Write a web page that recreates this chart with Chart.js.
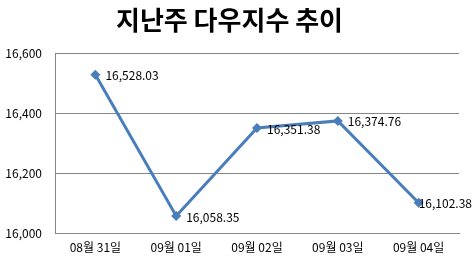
<!DOCTYPE html>
<html>
<head>
<meta charset="utf-8">
<script src="https://cdn.jsdelivr.net/npm/chart.js@4/dist/chart.umd.min.js"></script>
<style>
  html, body { margin: 0; padding: 0; background: #fff; }
  #wrap { width: 473px; height: 264px; }
</style>
</head>
<body>
<div id="wrap"><canvas id="chart"></canvas></div>
<script>
const titleText = "지난주 다우지수 추이";
const days = ["08월 31일", "09월 01일", "09월 02일", "09월 03일", "09월 04일"];
const dowValues = [16528.03, 16058.35, 16351.38, 16374.76, 16102.38];
const yTicks = [16000, 16200, 16400, 16600];

const fontFamily = "'Noto Sans CJK KR', 'Noto Sans', sans-serif";
const lineColor = "#4a7ebb";
const gridColor = "#868686";

const fmt = (v, d) => v.toLocaleString("en-US", { minimumFractionDigits: d, maximumFractionDigits: d });

// value labels to the right of each point, pulled back inside the canvas if needed
const valueLabels = {
  id: "valueLabels",
  afterDatasetsDraw(chart) {
    const ctx = chart.ctx;
    const meta = chart.getDatasetMeta(0);
    ctx.save();
    ctx.font = "12px " + fontFamily;
    ctx.fillStyle = "#000";
    ctx.textBaseline = "middle";
    meta.data.forEach((pt, i) => {
      const txt = fmt(dowValues[i], 2);
      const w = ctx.measureText(txt).width;
      let x = pt.x + 10;
      if (x + w > chart.width - 1) x = chart.width - 1 - w;
      ctx.fillText(txt, x, pt.y + 1);
    });
    ctx.restore();
  }
};

new Chart(document.getElementById("chart"), {
  type: "line",
  data: {
    labels: days,
    datasets: [{
      data: dowValues,
      borderColor: lineColor,
      backgroundColor: lineColor,
      borderWidth: 3,
      pointStyle: "rectRot",
      pointRadius: 5,
      pointBorderWidth: 0,
      tension: 0
    }]
  },
  options: {
    responsive: true,
    maintainAspectRatio: false,
    animation: false,
    layout: { padding: { top: 0, right: 14, bottom: 2, left: 0 } },
    plugins: {
      legend: { display: false },
      tooltip: { enabled: false },
      title: {
        display: true,
        text: titleText,
        color: "#000",
        font: { family: fontFamily, size: 26, weight: "bold" },
        padding: { top: 5, bottom: 17 }
      }
    },
    scales: {
      x: {
        offset: true,
        grid: { display: false, drawTicks: false },
        border: { display: true, color: gridColor, width: 1 },
        ticks: { color: "#000", font: { family: fontFamily, size: 12 }, padding: 7 }
      },
      y: {
        min: 16000,
        max: 16600,
        afterBuildTicks(scale) { scale.ticks = yTicks.map(v => ({ value: v })); },
        afterFit(scale) { scale.width = 55; },
        grid: { color: gridColor, drawTicks: false },
        border: { display: true, color: gridColor, width: 1 },
        ticks: {
          color: "#000",
          font: { family: fontFamily, size: 12 },
          padding: 13,
          callback: v => fmt(v, 0)
        }
      }
    }
  },
  plugins: [valueLabels]
});
</script>
</body>
</html>
